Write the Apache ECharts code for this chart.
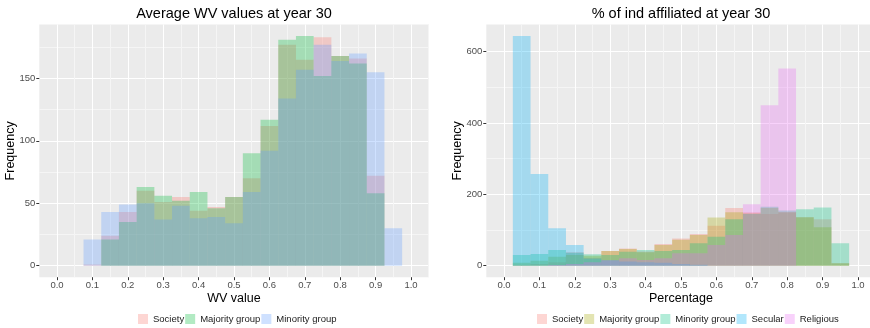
<!DOCTYPE html>
<html><head><meta charset="utf-8">
<script src="https://cdn.jsdelivr.net/npm/echarts@6/dist/echarts.min.js"></script>
<style>html,body{margin:0;padding:0;background:#fff}#c{width:870px;height:328px}</style>
</head><body><div id="c"></div>
<script>
// ---- Left panel: Average WV values at year 30 (bin centers, width 0.05)
const wvBins = [0.10,0.15,0.20,0.25,0.30,0.35,0.40,0.45,0.50,0.55,0.60,0.65,0.70,0.75,0.80,0.85,0.90,0.95];
const wvSociety  = [1,24,43,60,51,55,44,47,55,70,112,177,165,183,168,166,72,0];
const wvMajority = [0,21,35,63,56,52,59,46,55,90,117,181,184,152,168,162,58,0];
const wvMinority = [21,43,49,50,37,48,38,39,34,59,92,134,157,177,164,170,155,30];

// ---- Right panel: % of ind affiliated at year 30
const pctBins = [0.05,0.10,0.15,0.20,0.25,0.30,0.35,0.40,0.45,0.50,0.55,0.60,0.65,0.70,0.75,0.80,0.85,0.90,0.95];
const pctSociety   = [3,5,10,38,22,41,48,40,61,76,89,112,162,150,145,150,136,130,7];
const pctMajority  = [8,14,25,30,28,41,47,38,58,73,86,135,150,147,162,150,136,108,7];
const pctMinority  = [30,33,44,36,32,30,39,44,41,44,63,81,130,145,165,155,158,163,63];
const pctSecular   = [644,257,105,58,20,15,12,10,8,5,3,0,0,0,0,0,0,0,0];
const pctReligious = [0,0,2,5,10,15,21,16,21,35,35,58,86,172,450,553,0,0,0];

// ---- Tick labels
const xTicks = [0.0,0.1,0.2,0.3,0.4,0.5,0.6,0.7,0.8,0.9,1.0];
const yTicksWV = [0,50,100,150];
const yTicksPct = [0,200,400,600];

const binWidth = 0.05;
const FONT = 'Liberation Sans, Arial, sans-serif';

function withMinors(ticks, max) {
  const step = ticks[1] - ticks[0];
  const out = [];
  ticks.forEach(t => { out.push(t); const m = +(t + step / 2).toFixed(4); if (m <= max) out.push(m); });
  return out;
}

function renderBin(params, api) {
  const c = api.value(0), v = api.value(1);
  if (!v) return null;
  const p0 = api.coord([c - binWidth / 2, v]);
  const p1 = api.coord([c + binWidth / 2, 0]);
  return { type: 'rect', shape: { x: p0[0], y: p0[1], width: p1[0] - p0[0], height: p1[1] - p0[1] }, style: api.style({ stroke: null }) };
}

function xAxisPair(gridIndex, name) {
  const min = -0.05, max = 1.05;
  return [
    { type: 'value', gridIndex, min, max, position: 'bottom', name, nameLocation: 'middle', nameGap: 15, nameMoveOverlap: false,
      nameTextStyle: { fontFamily: FONT, fontSize: 12.5, color: '#000' },
      axisLine: { show: false, onZero: false }, axisTick: { show: false, customValues: withMinors(xTicks, max) },
      axisLabel: { customValues: xTicks, formatter: v => v.toFixed(1), margin: 3, fontFamily: FONT, fontSize: 9.5, color: '#4D4D4D' },
      splitLine: { show: true, lineStyle: { color: ['#FFFFFF', '#F5F5F5'], width: 1 } } },
    { type: 'value', gridIndex, min, max, position: 'bottom', offset: 0, axisLine: { show: false, onZero: false },
      axisTick: { show: true, customValues: xTicks, length: 3, lineStyle: { color: '#333' } },
      axisLabel: { show: false }, splitLine: { show: false } }
  ];
}
function yAxisPair(gridIndex, min, max, ticks) {
  return [
    { type: 'value', gridIndex, min, max, position: 'left', name: 'Frequency', nameLocation: 'middle', nameGap: 22, nameMoveOverlap: false,
      nameTextStyle: { fontFamily: FONT, fontSize: 12.5, color: '#000' },
      axisLine: { show: false, onZero: false }, axisTick: { show: false, customValues: withMinors(ticks, max) },
      axisLabel: { customValues: ticks, margin: 4, fontFamily: FONT, fontSize: 9.5, color: '#4D4D4D' },
      splitLine: { show: true, lineStyle: { color: ['#FFFFFF', '#F5F5F5'], width: 1 } } },
    { type: 'value', gridIndex, min, max, position: 'left', offset: 0, axisLine: { show: false, onZero: false },
      axisTick: { show: true, customValues: ticks, length: 3, lineStyle: { color: '#333' } },
      axisLabel: { show: false }, splitLine: { show: false } }
  ];
}

const colL = { s: 'rgba(248,118,109,0.3)', ma: 'rgba(0,186,56,0.3)', mi: 'rgba(97,156,255,0.3)' };
const colR = { s: 'rgba(248,118,109,0.3)', ma: 'rgba(163,165,0,0.3)', mi: 'rgba(0,191,125,0.3)', se: 'rgba(0,176,246,0.3)', re: 'rgba(231,107,243,0.3)' };

function binSeries(name, bins, vals, color, xi, yi) {
  return { type: 'custom', name, xAxisIndex: xi, yAxisIndex: yi, clip: true,
    itemStyle: { color }, renderItem: renderBin,
    data: bins.map((b, i) => [b, vals[i]]) };
}

const legendCommon = { orient: 'horizontal', top: 314, itemWidth: 10, itemHeight: 10, itemGap: 1, icon: 'rect', padding: 0,
  selectedMode: false, textStyle: { fontFamily: FONT, fontSize: 9.5, color: '#222' } };

const option = {
  animation: false,
  backgroundColor: '#fff',
  title: [
    { text: 'Average WV values at year 30', left: 234, textAlign: 'center', top: 6, padding: 0,
      textStyle: { fontFamily: FONT, fontSize: 14.5, fontWeight: 'normal', color: '#000' } },
    { text: '% of ind affiliated at year 30', left: 681, textAlign: 'center', top: 6, padding: 0,
      textStyle: { fontFamily: FONT, fontSize: 14.5, fontWeight: 'normal', color: '#000' } }
  ],
  legend: [
    Object.assign({ left: 138, data: [
      { name: 'Society', itemStyle: { color: colL.s } },
      { name: 'Majority group', itemStyle: { color: colL.ma } },
      { name: 'Minority group', itemStyle: { color: colL.mi } }] }, legendCommon),
    Object.assign({ left: 537, data: [
      { name: 'Society', itemStyle: { color: colR.s } },
      { name: 'Majority group', itemStyle: { color: colR.ma } },
      { name: 'Minority group', itemStyle: { color: colR.mi } },
      { name: 'Secular', itemStyle: { color: colR.se } },
      { name: 'Religious', itemStyle: { color: colR.re } }] }, legendCommon)
  ],
  grid: [
    { left: 39.3, width: 389.4, top: 24.5, height: 252.7, show: true, backgroundColor: '#EBEBEB', borderWidth: 0, outerBoundsMode: 'none', containLabel: false },
    { left: 486.3, width: 389.4, top: 24.5, height: 252.7, show: true, backgroundColor: '#EBEBEB', borderWidth: 0, outerBoundsMode: 'none', containLabel: false }
  ],
  xAxis: [].concat(xAxisPair(0, 'WV value'), xAxisPair(1, 'Percentage')),
  yAxis: [].concat(yAxisPair(0, -9.2, 193.2, yTicksWV), yAxisPair(1, -32.2, 676.2, yTicksPct)),
  series: [
    binSeries('Society', wvBins, wvSociety, colL.s, 0, 0),
    binSeries('Majority group', wvBins, wvMajority, colL.ma, 0, 0),
    binSeries('Minority group', wvBins, wvMinority, colL.mi, 0, 0),
    binSeries('Society', pctBins, pctSociety, colR.s, 2, 2),
    binSeries('Majority group', pctBins, pctMajority, colR.ma, 2, 2),
    binSeries('Minority group', pctBins, pctMinority, colR.mi, 2, 2),
    binSeries('Secular', pctBins, pctSecular, colR.se, 2, 2),
    binSeries('Religious', pctBins, pctReligious, colR.re, 2, 2)
  ]
};

const chart = echarts.init(document.getElementById('c'), null, { renderer: 'canvas' });
chart.setOption(option);
</script>
</body></html>
